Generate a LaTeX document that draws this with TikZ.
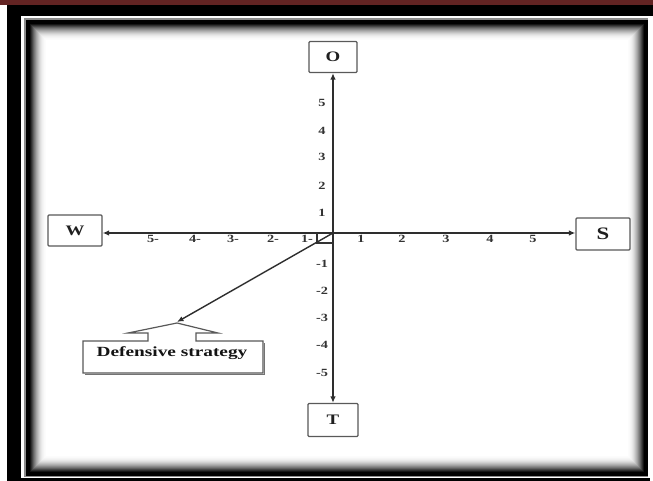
\documentclass[tikz,border=0pt]{standalone}
\usepackage{fontspec}
\setmainfont{Liberation Serif}
\usetikzlibrary{arrows.meta}
\definecolor{topred}{HTML}{632423}
\newcommand{\wtxt}[1]{\scalebox{1.3}[1]{#1}}
\tikzset{
  axis/.style={draw=black!82, line width=1.4pt, -{Latex[length=6.5pt,width=5.5pt]}},
  letterbox/.style={draw=black!65, line width=1.3pt, fill=white, inner sep=0pt, rounded corners=1pt, font=\fontsize{14.5}{16}\selectfont\bfseries, text=black!88},
  ticklbl/.style={font=\fontsize{11}{12}\selectfont\bfseries, text=black!80, inner sep=0pt},
  callout/.style={draw=black!65, line width=1.2pt, fill=white},
}
\begin{document}
\begin{tikzpicture}[x=1pt,y=-1pt]
\useasboundingbox (0,0) rectangle (653,481);
% page frame
\fill[white] (0,0) rectangle (653,481);
\fill[topred] (0,0) rectangle (653,5);
\fill[black] (7,5) rectangle (653,16);
\fill[black] (7,5) rectangle (21,481);
\fill[black] (7,478) rectangle (650,481);
\fill[black!45] (24,18) rectangle (648,477);
\fill[black] (26,20) rectangle (648,476);
\fill[white] (30,24) rectangle (644,472);
\foreach \i/\p in {0/92,1/82,2/72,3/62,4/53,5/45,6/37,7/30,8/24,9/18,10/13,11/9,12/6,13/4,14/2,15/1}{
  \draw[black!\p, line width=1pt] (30.5+\i,24.5+\i) rectangle (643.5-\i,471.5-\i);
}
% boxes
\node[letterbox, minimum width=48pt, minimum height=31pt] (O) at (333,57) {\wtxt{O}};
\node[letterbox, minimum width=50pt, minimum height=33pt] (T) at (333,420) {\wtxt{T}};
\node[letterbox, minimum width=54pt, minimum height=31pt] (W) at (75,230.5) {\wtxt{W}};
\node[letterbox, minimum width=54pt, minimum height=32pt, font=\fontsize{17.5}{19}\selectfont\bfseries] (S) at (603,234) {\wtxt{S}};
% axes
\coordinate (o) at (333,233);
\draw[axis] (o) -- (o |- O.south);
\draw[axis] (o) -- (o |- T.north);
\draw[axis] (o) -- (o -| W.east);
\draw[axis] (o) -- (o -| S.west);
% right-angle mark
\draw[black!80, line width=1.1pt] (317,233) -- (317,243) -- (333,243);
% callout
\draw[black!55, line width=1.6pt] (85,374.5) -- (264.5,374.5) -- (264.5,343);
\draw[callout] (148,341) -- (83,341) -- (83,373) -- (263,373) -- (263,341) -- (196,341) -- (196,333) -- (218,333) -- (177,323) -- (128,333) -- (148,333) -- cycle;
\coordinate (apex) at (177,322);
\node[font=\fontsize{14}{16}\selectfont\bfseries, text=black!92, inner sep=0pt] (D) at (172,353) {\scalebox{1.38}[1]{Defensive strategy}};
\draw[axis] (o) -- (apex);
% tick labels
\foreach \x/\t in {361/1,402/2,446/3,490/4,533/5}{
  \node[ticklbl] (hp\t) at (\x,239) {\wtxt{\t}};
}
\foreach \x/\t in {153/5,195/4,233/3,273/2,307/1}{
  \node[ticklbl] (hn\t) at (\x,239) {\wtxt{\t-}};
}
\foreach \y/\t in {103/5,131/4,157/3,186/2,213/1}{
  \node[ticklbl] (vp\t) at (322,\y) {\wtxt{\t}};
}
\foreach \y/\t in {264/1,291/2,318/3,345/4,373/5}{
  \node[ticklbl] (vn\t) at (322,\y) {\wtxt{-\t}};
}
\end{tikzpicture}
\end{document}
